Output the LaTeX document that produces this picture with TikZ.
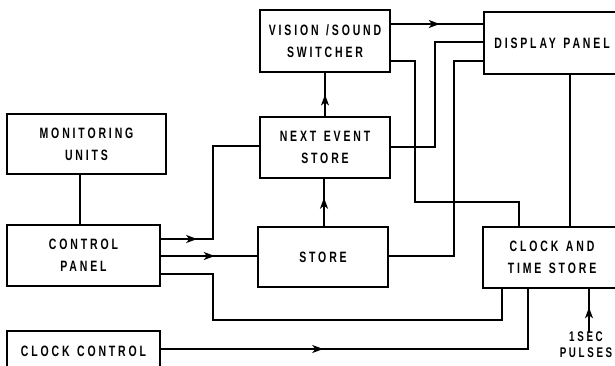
\documentclass[tikz,border=0pt]{standalone}
\usepackage{fontspec}
\newfontfamily\blockfont{Liberation Sans}[LetterSpace=19, FakeStretch=0.7, WordSpace=1.3]
\usetikzlibrary{arrows.meta,decorations.markings}

\tikzset{
  block/.style={draw, rectangle, line width=1.6pt, inner sep=0pt, align=center,
    font=\blockfont\bfseries\fontsize{15}{22}\selectfont},
  wire/.style={line width=1.4pt},
  flow/.style={postaction={decorate}, decoration={markings,
    mark=at position #1 with {\arrow{Stealth[length=11pt,width=8pt,inset=3pt]}}}},
}

\begin{document}
\begin{tikzpicture}[x=1pt, y=-1pt]
  \useasboundingbox (0,0) rectangle (615,365);

  % blocks
  \node[block, minimum width=130pt, minimum height=62pt] (switcher) at (325,41) {VISION /SOUND\\SWITCHER};
  \node[block, minimum width=136pt, minimum height=62pt] (display) at (552,43) {DISPLAY PANEL};
  \node[block, minimum width=159pt, minimum height=60pt] (monitor) at (86.5,144) {MONITORING\\UNITS};
  \node[block, minimum width=130pt, minimum height=61pt] (nextev) at (325,147.5) {NEXT EVENT\\STORE};
  \node[block, minimum width=153pt, minimum height=61pt] (control) at (83.5,255.5) {CONTROL\\PANEL};
  \node[block, minimum width=130pt, minimum height=60pt] (store) at (323,257) {STORE};
  \node[block, minimum width=138pt, minimum height=61pt] (clock) at (552,257.5) {CLOCK AND\\TIME STORE};
  \node[block, minimum width=153pt, minimum height=40pt] (clockctl) at (83.5,351) {CLOCK CONTROL};
  \node[align=center, inner sep=0pt, font=\blockfont\bfseries\fontsize{14}{16}\selectfont] (pulses) at (586,345) {1SEC\\PULSES};

  % connectors
  \draw[wire] (monitor.south -| 80,0) -- (control.north -| 80,0);
  \draw[wire, flow=0.19] (control.east |- 0,239) -| (213,146) -- (nextev.west |- 0,146);
  \draw[wire, flow=0.56] (control.east |- 0,256) -- (store.west |- 0,256);
  \draw[wire] (control.east |- 0,274) -| (213,320) -| (clock.south -| 502,0);
  \draw[wire, flow=0.38] (clockctl.east |- 0,349) -| (clock.south -| 528,0);
  \draw[wire, flow=0.6] (store.north -| 324,0) -- (nextev.south -| 324,0);
  \draw[wire, flow=0.5] (nextev.north) -- (switcher.south);
  \draw[wire, flow=0.53] (switcher.east |- 0,24) -- (display.west |- 0,24);
  \draw[wire] (switcher.east |- 0,61) -| (415,202) -| (clock.north -| 519,0);
  \draw[wire] (nextev.east |- 0,147) -| (435,42) -- (display.west |- 0,42);
  \draw[wire] (store.east |- 0,256) -| (454,61) -- (display.west |- 0,61);
  \draw[wire] (display.south -| 570,0) -- (clock.north -| 570,0);
  \draw[wire, flow=0.57] (pulses.north -| 589,0) -- (clock.south -| 589,0);
\end{tikzpicture}
\end{document}
